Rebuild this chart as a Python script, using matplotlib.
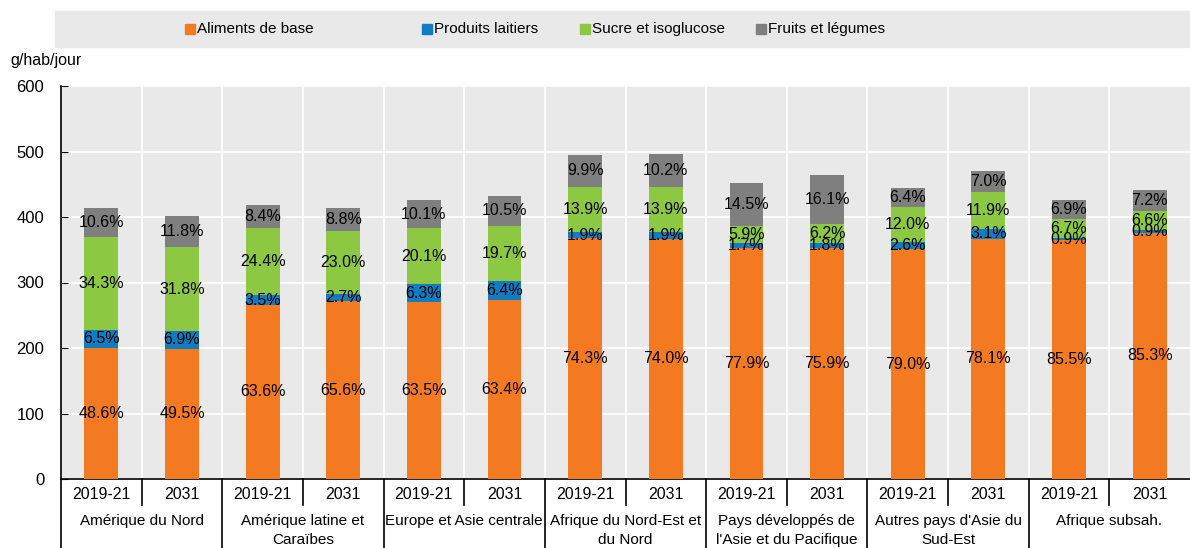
import numpy as np
import matplotlib.pyplot as plt
import matplotlib.transforms as mtransforms
from matplotlib.patches import Rectangle

plt.rcParams['font.family'] = ['Liberation Sans', 'DejaVu Sans']

regions = ["Amérique du Nord", "Amérique latine et\nCaraïbes", "Europe et Asie centrale",
           "Afrique du Nord-Est et\ndu Nord", "Pays développés de\nl'Asie et du Pacifique",
           "Autres pays d'Asie du\nSud-Est", "Afrique subsah."]
years = ["2019-21", "2031"]

# total g/hab/jour per bar
totals = [413, 401, 418, 414, 426, 432, 495, 496, 452, 464, 444, 470, 426, 441]

# shares (%) per bar
aliments = [48.6, 49.5, 63.6, 65.6, 63.5, 63.4, 74.3, 74.0, 77.9, 75.9, 79.0, 78.1, 85.5, 85.3]
laitiers = [6.5, 6.9, 3.5, 2.7, 6.3, 6.4, 1.9, 1.9, 1.7, 1.8, 2.6, 3.1, 0.9, 0.9]
sucre = [34.3, 31.8, 24.4, 23.0, 20.1, 19.7, 13.9, 13.9, 5.9, 6.2, 12.0, 11.9, 6.7, 6.6]
fruits = [10.6, 11.8, 8.4, 8.8, 10.1, 10.5, 9.9, 10.2, 14.5, 16.1, 6.4, 7.0, 6.9, 7.2]

series = ["Aliments de base", "Produits laitiers", "Sucre et isoglucose", "Fruits et légumes"]
colors = ["#f47a22", "#0f7dc2", "#8cc841", "#7f7f7f"]
shares = [aliments, laitiers, sucre, fruits]

fig = plt.figure(figsize=(11.9, 5.48), dpi=100)
ax = fig.add_axes([61/1190, 1 - 479/548, 1 - 61/1190, (479 - 86)/548])
ax.set_facecolor("#e9e9e9")

x = np.arange(len(totals))
tot = np.array(totals, dtype=float)
bottom = np.zeros(len(totals))
for name, col, sh in zip(series, colors, shares):
    vals = tot * np.array(sh) / 100
    ax.bar(x, vals, 0.42, bottom=bottom, color=col, zorder=3)
    for xi, b, v, s in zip(x, bottom, vals, sh):
        ax.text(xi, b + v / 2, f"{s:.1f}%", ha="center", va="center", fontsize=11.5, zorder=4)
    bottom += vals

ax.set_xlim(-0.5, len(totals) - 0.5)
ax.set_ylim(0, 600)
ax.set_yticks(range(0, 601, 100))
ax.set_xticks(np.arange(0.5, len(totals) - 0.5, 1), minor=True)
ax.set_xticks([])
ax.grid(True, axis="y", color="white", lw=1.2, zorder=1)
ax.grid(True, axis="x", which="minor", color="white", lw=1.2, zorder=1)
ax.tick_params(axis="y", direction="in", length=5, labelsize=12, pad=12)
ax.tick_params(axis="x", which="both", length=0)
for s in ["top", "right"]:
    ax.spines[s].set_visible(False)
ax.spines["left"].set_linewidth(1.2)
ax.spines["bottom"].set_linewidth(1.2)

trans = mtransforms.blended_transform_factory(ax.transData, ax.transAxes)
for i in range(len(totals)):
    ax.text(i, -0.04, years[i % 2], transform=trans, ha="center", va="center", fontsize=11.5)
for g, name in enumerate(regions):
    ax.text(2 * g + 0.5, -0.09, name, transform=trans, ha="center", va="top",
            fontsize=11, linespacing=1.45)
for k in range(len(totals)):
    xb = k - 0.5
    ybot = -0.176 if k % 2 == 0 else -0.066
    ax.plot([xb, xb], [0, ybot], transform=trans, color="black", lw=1.2, clip_on=False)

fig.text(10/1190, 1 - 60/548, "g/hab/jour", ha="left", va="center", fontsize=11.5)

# legend band
fig.patches.append(Rectangle((55/1190, 1 - 47/548), 1 - 55/1190, 36/548,
                             transform=fig.transFigure, color="#e9e9e9", zorder=0))
leg_x = [185, 422, 580, 756]
for lx, name, col in zip(leg_x, series, colors):
    fig.patches.append(Rectangle((lx/1190, 1 - 34/548), 10/1190, 10/548,
                                 transform=fig.transFigure, color=col))
    fig.text((lx + 12)/1190, 1 - 29/548, name, ha="left", va="center", fontsize=11)

fig.savefig("out.png", dpi=100)
